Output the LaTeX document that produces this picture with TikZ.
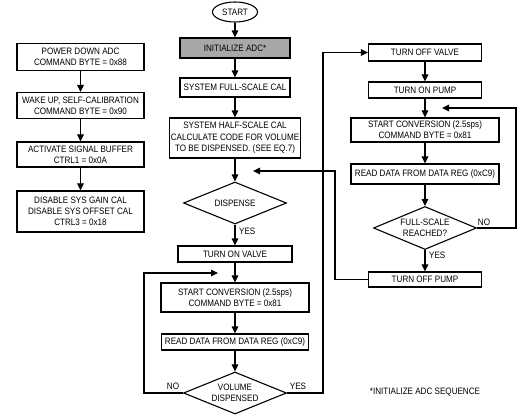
\documentclass[tikz,border=0pt]{standalone}
\usepackage{fontspec}
\setmainfont{Liberation Sans}[FakeStretch=0.87]
\usetikzlibrary{arrows.meta,shapes.geometric}
\definecolor{initgray}{RGB}{168,168,168}
\begin{document}
\begin{tikzpicture}[x=1pt,y=-1pt,
  every node/.style={font=\fontsize{9.3}{11.3}\selectfont, inner sep=0pt},
  bx/.style n args={2}{draw, line width=1.1pt, rectangle, align=center, minimum width=#1, minimum height=#2},
  dec/.style={draw, line width=1.1pt, diamond, aspect=2.4, align=center, minimum width=103, minimum height=42, font=\fontsize{9.3}{10.5}\selectfont},
  term/.style={draw, line width=1.1pt, ellipse, minimum width=45, minimum height=20},
  arr/.style={draw, line width=1.1pt, -{Triangle[length=7pt,width=6.5pt]}},
  lbl/.style={font=\fontsize{9.3}{11.3}\selectfont}
]
\useasboundingbox (0,0) rectangle (522,419);

% left column
\node[bx={127}{27}] (l1) at (80.5,57) {POWER DOWN ADC\\COMMAND BYTE = 0x88};
\node[bx={127}{26}] (l2) at (80.5,105.5) {WAKE UP, SELF-CALIBRATION\\COMMAND BYTE = 0x90};
\node[bx={127}{25}] (l3) at (80.5,154.5) {ACTIVATE SIGNAL BUFFER\\CTRL1 = 0x0A};
\node[bx={127}{41}] (l4) at (80.5,211.5) {DISABLE SYS GAIN CAL\\DISABLE SYS OFFSET CAL\\CTRL3 = 0x18};

% center column
\node[term] (start) at (235,12) {START};
\node[bx={110}{20}, fill=initgray] (init) at (235,48) {INITIALIZE ADC*};
\node[bx={110}{19}] (full) at (235,87.5) {SYSTEM FULL-SCALE CAL};
\node[bx={131}{40}] (half) at (235,138) {SYSTEM HALF-SCALE CAL\\CALCULATE CODE FOR VOLUME\\TO BE DISPENSED. (SEE EQ.7)};
\node[dec] (disp) at (235,203) {DISPENSE};
\node[bx={114}{16}] (valve) at (235,254) {TURN ON VALVE};
\node[bx={148}{29}] (sc1) at (235,297.5) {START CONVERSION (2.5sps)\\COMMAND BYTE = 0x81};
\node[bx={147}{16}] (rd1) at (235,342) {READ DATA FROM DATA REG (0xC9)};
\node[dec] (vol) at (235,393) {VOLUME\\DISPENSED};

% right column
\node[bx={113}{17}] (offv) at (425,52.5) {TURN OFF VALVE};
\node[bx={113}{16}] (onp) at (425,90) {TURN ON PUMP};
\node[bx={148}{24}] (sc2) at (425,130) {START CONVERSION (2.5sps)\\COMMAND BYTE = 0x81};
\node[bx={148}{20}] (rd2) at (425,174) {READ DATA FROM DATA REG (0xC9)};
\node[dec, minimum height=43] (fs) at (425,228) {FULL-SCALE\\REACHED?};
\node[bx={113}{15}] (offp) at (425,279.5) {TURN OFF PUMP};

% coordinates for loop connectors
\coordinate (vr) at (323,393);
\coordinate (vl) at (144,393);
\coordinate (j1) at (218,273);
\coordinate (fr) at (516,228);
\coordinate (j2) at (442,108);
\coordinate (pr) at (335,279.5);
\coordinate (j3) at (253,171);

% straight arrows
\draw[arr] (l1) -- (l2);
\draw[arr] (l2) -- (l3);
\draw[arr] (l3) -- (l4);
\draw[arr] (start) -- (init);
\draw[arr] (init) -- (full);
\draw[arr] (full) -- (half);
\draw[arr] (half) -- (disp);
\draw[arr] (disp) -- (valve);
\draw[arr] (valve) -- (sc1);
\draw[arr] (sc1) -- (rd1);
\draw[arr] (rd1) -- (vol);
\draw[arr] (offv) -- (onp);
\draw[arr] (onp) -- (sc2);
\draw[arr] (sc2) -- (rd2);
\draw[arr] (rd2) -- (fs);
\draw[arr] (fs) -- (offp);

% loops
\draw[arr] (vol.east) -- (vr) |- (offv.west);
\draw[arr] (vol.west) -- (vl) |- (j1);
\draw[arr] (fs.east) -- (fr) |- (j2);
\draw[arr] (offp.west) -- (pr) |- (j3);

% labels
\node[lbl] (nov) at (173,386) {NO};
\node[lbl] (yesv) at (298,386) {YES};
\node[lbl, anchor=west] (yesd) at (239,231) {YES};
\node[lbl] (nof) at (484,222) {NO};
\node[lbl, anchor=west] (yesf) at (429,255) {YES};
\node[lbl] (foot) at (425,392) {*INITIALIZE ADC SEQUENCE};
\end{tikzpicture}
\end{document}
